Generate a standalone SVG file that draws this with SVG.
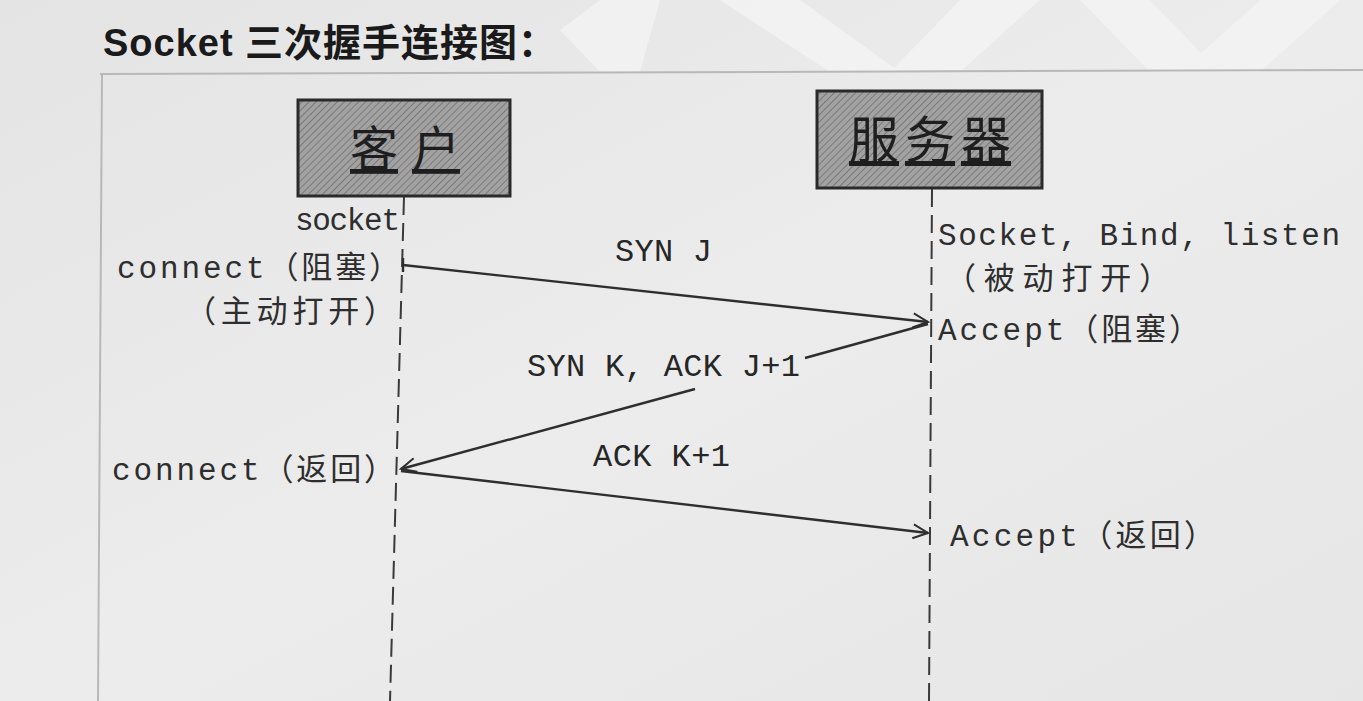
<svg xmlns="http://www.w3.org/2000/svg" width="1363" height="701" viewBox="0 0 1363 701">
<style>
.t{font-family:"Liberation Mono","Noto Sans CJK SC",monospace;font-size:31px;fill:#2e2e2e}
.m{font-family:"Liberation Mono","Noto Sans CJK SC",monospace;font-size:32px;fill:#262626}
.title{font-family:"Liberation Sans","Noto Sans CJK SC",sans-serif;font-size:38px;font-weight:bold;fill:#1a1a1a}
.box{fill:url(#hatch);stroke:#2a2a2a;stroke-width:3}
.boxt{font-family:"Liberation Serif","Noto Sans CJK SC",serif;fill:#1e1e1e;text-decoration:underline}
.life{stroke:#3a3a3a;stroke-width:2;stroke-dasharray:18 8;fill:none}
.msg{stroke:#2e2e2e;stroke-width:2.4;fill:none}
.frame{stroke:#b8b8b8;stroke-width:2;fill:none}
</style>
<defs>
<pattern id="hatch" patternUnits="userSpaceOnUse" width="5" height="5" patternTransform="rotate(45)">
<rect width="5" height="5" fill="#a2a2a2"/>
<line x1="0" y1="0" x2="0" y2="5" stroke="#7a7a7a" stroke-width="2"/>
</pattern>
<marker id="arr" markerUnits="userSpaceOnUse" markerWidth="18" markerHeight="16" refX="16" refY="8" orient="auto">
<path d="M1,1 L16,8 L1,15" fill="none" stroke="#2e2e2e" stroke-width="2"/>
</marker>
<linearGradient id="bg" x1="0" y1="0" x2="1" y2="1">
<stop offset="0" stop-color="#e4e4e4"/>
<stop offset="0.5" stop-color="#ececec"/>
<stop offset="1" stop-color="#e6e6e6"/>
</linearGradient>
</defs>
<rect width="1363" height="701" fill="url(#bg)"/>
<g id="watermark" fill="#f3f3f3" opacity="0.9">
<polygon points="560,30 600,0 660,0 640,72 600,72"/>
<polygon points="720,0 800,0 900,72 830,72"/>
<polygon points="890,72 960,0 1040,0 960,72"/>
<polygon points="1080,0 1150,0 1220,72 1150,72"/>
<polygon points="1180,72 1260,0 1340,0 1260,72"/>
</g>
<g id="frame">
<line class="frame" x1="100" y1="74" x2="1363" y2="70"/>
<line class="frame" x1="102" y1="74" x2="98" y2="701"/>
</g>
<text id="title" class="title" x="103" y="56" textLength="453" lengthAdjust="spacing">Socket 三次握手连接图：</text>
<g id="client">
<rect class="box" x="298" y="100" width="212" height="96"/>
<text class="boxt" x="405" y="166" font-size="48" text-anchor="middle" textLength="110" lengthAdjust="spacing">客户</text>
<line class="life" x1="404" y1="197" x2="390" y2="701"/>
</g>
<g id="server">
<rect class="box" x="817" y="91" width="225" height="97"/>
<text class="boxt" x="930" y="158" font-size="50" text-anchor="middle" textLength="162" lengthAdjust="spacing">服务器</text>
<line class="life" x1="932" y1="189" x2="929" y2="701"/>
</g>
<g id="client-labels">
<text class="t" x="295" y="230" textLength="105" lengthAdjust="spacing">socket</text>
<text class="t" x="117" y="278" textLength="283" lengthAdjust="spacing">connect（阻塞）</text>
<text class="t" x="185" y="322" textLength="210" lengthAdjust="spacing">（主动打开）</text>
<text class="t" x="112" y="480" textLength="283" lengthAdjust="spacing">connect（返回）</text>
</g>
<g id="server-labels">
<text class="t" x="938" y="245" textLength="402" lengthAdjust="spacing">Socket, Bind, listen</text>
<text class="t" x="945" y="289" textLength="225" lengthAdjust="spacing">（被动打开）</text>
<text class="t" x="938" y="340" textLength="262" lengthAdjust="spacing">Accept（阻塞）</text>
<text class="t" x="950" y="546" textLength="265" lengthAdjust="spacing">Accept（返回）</text>
</g>
<g id="connectors">
<line class="msg" x1="403" y1="265" x2="928" y2="322" marker-end="url(#arr)"/>
<line class="msg" x1="403" y1="258" x2="403" y2="272"/>
<line class="msg" x1="928" y1="324" x2="805" y2="358"/>
<line class="msg" x1="695" y1="389" x2="401" y2="469" marker-end="url(#arr)"/>
<line class="msg" x1="401" y1="471" x2="928" y2="533" marker-end="url(#arr)"/>
</g>
<g id="message-labels">
<text class="m" x="615" y="261" textLength="97" lengthAdjust="spacing">SYN J</text>
<text class="m" x="527" y="376" textLength="273" lengthAdjust="spacing">SYN K, ACK J+1</text>
<text class="m" x="593" y="466" textLength="137" lengthAdjust="spacing">ACK K+1</text>
</g>
</svg>
